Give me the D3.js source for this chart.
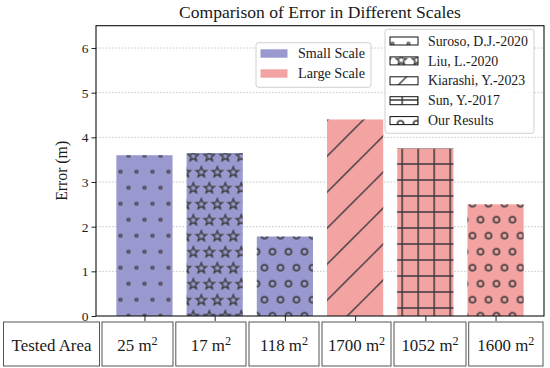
<!DOCTYPE html>
<html><head><meta charset="utf-8">
<script src="https://cdn.jsdelivr.net/npm/d3@7"></script>
<style>body{margin:0;background:#fff}svg{display:block}text{font-family:"Liberation Serif","Times New Roman",serif;fill:#1a1a1a}</style>
</head><body><svg id="c" width="550" height="368"></svg>
<script>
// ---- data ----
const areas = ["25", "17", "118", "1700", "1052", "1600"];
const errors = [3.6, 3.65, 1.78, 4.4, 3.75, 2.5];
const scaleGroup = ["Small Scale", "Small Scale", "Small Scale", "Large Scale", "Large Scale", "Large Scale"];
const sources = ["Suroso, D.J.-2020", "Liu, L.-2020", "Our Results", "Kiarashi, Y.-2023", "Sun, Y.-2017", "Our Results"];
const scaleLegend = ["Small Scale", "Large Scale"];
const sourceLegend = ["Suroso, D.J.-2020", "Liu, L.-2020", "Kiarashi, Y.-2023", "Sun, Y.-2017", "Our Results"];
const yTicks = [0, 1, 2, 3, 4, 5, 6];
const title = "Comparison of Error in Different Scales";
const yLabel = "Error (m)";
const rowHeader = "Tested Area";

// ---- styles / layout ----
const colors = {"Small Scale": "#9999d0", "Large Scale": "#f4a3a3"};
const hatchOf = {"Suroso, D.J.-2020": "dots", "Liu, L.-2020": "stars", "Kiarashi, Y.-2023": "diag", "Sun, Y.-2017": "grid", "Our Results": "rings"};
const HC = "#3a3a3a";
const L = {left: 96, right: 544, top: 25.7, bottom: 316};
const cellEdges = [[3.5, 99.5], [102, 173], [175.8, 246], [249, 319], [322, 391], [394, 466], [468.7, 543]];

const svg = d3.select("#c");
const defs = svg.append("defs");

// hatch patterns (screen-anchored like matplotlib)
function pat(id, w, h, ox, oy) {
  return defs.append("pattern").attr("id", id).attr("patternUnits", "userSpaceOnUse")
    .attr("width", w).attr("height", h).attr("x", ox).attr("y", oy);
}
function lattice(p, fn) {
  [[0, 0], [16, 0], [8, 16], [0, 32], [16, 32]].forEach(([x, y]) => fn(p, x, y));
}
let p = pat("dots", 16, 32, 8.5, 11.7);
lattice(p, (g, x, y) => g.append("circle").attr("cx", x).attr("cy", y).attr("r", 1.4)
  .attr("fill", "none").attr("stroke", HC).attr("stroke-width", 1.3));
p = pat("rings", 16, 32, 8.5, 11.7);
lattice(p, (g, x, y) => g.append("circle").attr("cx", x).attr("cy", y).attr("r", 3.0)
  .attr("fill", "none").attr("stroke", HC).attr("stroke-width", 1.6));
function starPath(cx, cy, R, r) {
  const pts = [];
  for (let i = 0; i < 10; i++) {
    const a = -Math.PI / 2 + i * Math.PI / 5, rr = i % 2 ? r : R;
    pts.push([cx + rr * Math.cos(a), cy + rr * Math.sin(a)]);
  }
  return "M" + pts.map(d => d.join(",")).join("L") + "Z";
}
p = pat("stars", 16, 32, 1.3, 27.7 - 32);
lattice(p, (g, x, y) => g.append("path").attr("d", starPath(x, y + 0.5, 5.4, 2.3))
  .attr("fill", "none").attr("stroke", HC).attr("stroke-width", 1.4).attr("stroke-linejoin", "miter"));
p = pat("grid", 16, 16, 2.2, 4);
p.append("path").attr("d", "M0,0H16M0,16H16M0,0V16M16,0V16").attr("stroke", HC).attr("stroke-width", 1.5);
const DP = 36;
p = pat("diag", DP, DP, 15.3, 0);
p.append("path").attr("d", `M-2,2L2,-2M0,${DP}L${DP},0M${DP - 2},${DP + 2}L${DP + 2},${DP - 2}`)
  .attr("stroke", HC).attr("stroke-width", 1.4);

// scales
const x = d3.scaleLinear().domain([-0.69, 5.69]).range([L.left, L.right]);
const y = d3.scaleLinear().domain([0, 6.5]).range([L.bottom, L.top]);
const bw = x(0.4) - x(0);

// grid
svg.append("g").selectAll("line").data(yTicks.filter(t => t > 0)).join("line")
  .attr("x1", L.left).attr("x2", L.right).attr("y1", d => y(d)).attr("y2", d => y(d))
  .attr("stroke", "#c4c4c4").attr("stroke-width", 0.9).attr("stroke-dasharray", "1.6,1.6");

// bars
const bars = svg.append("g");
errors.forEach((v, i) => {
  const bx = x(i) - bw, by = y(v), bh = y(0) - y(v);
  bars.append("rect").attr("x", bx).attr("y", by).attr("width", 2 * bw).attr("height", bh)
    .attr("fill", colors[scaleGroup[i]]);
  bars.append("rect").attr("x", bx).attr("y", by).attr("width", 2 * bw).attr("height", bh)
    .attr("fill", `url(#${hatchOf[sources[i]]})`);
});

// axes
const yAxis = svg.append("g").attr("transform", `translate(${L.left},0)`)
  .call(d3.axisLeft(y).tickValues(yTicks).tickFormat(d3.format("d")).tickSize(4.5).tickPadding(3));
const xAxis = svg.append("g").attr("transform", `translate(0,${L.bottom})`)
  .call(d3.axisBottom(x).tickValues(d3.range(areas.length)).tickFormat("").tickSize(5));
[yAxis, xAxis].forEach(a => {
  a.select(".domain").remove();
  a.selectAll("line").attr("stroke", "#222").attr("stroke-width", 1);
});
yAxis.selectAll("text").attr("font-size", 13.5).attr("fill", "#111").style("font-family", '"Liberation Serif",serif');
svg.append("rect").attr("x", L.left).attr("y", L.top).attr("width", L.right - L.left).attr("height", L.bottom - L.top)
  .attr("fill", "none").attr("stroke", "#111").attr("stroke-width", 1.1);

function fit(sel, target, base) {
  sel.attr("font-size", base);
  const w = sel.node().getComputedTextLength();
  sel.attr("font-size", base * target / w);
}

// title & y label
fit(svg.append("text").attr("x", (L.left + L.right) / 2).attr("y", 17.6).attr("text-anchor", "middle").text(title), 282, 16);
fit(svg.append("text").attr("transform", `translate(67,${(L.top + L.bottom) / 2}) rotate(-90)`)
  .attr("text-anchor", "middle").text(yLabel), 60, 13);

// legend 1: scales
const lg1 = svg.append("g");
lg1.append("rect").attr("x", 256).attr("y", 42.7).attr("width", 115).attr("height", 44.6).attr("rx", 2.5)
  .attr("fill", "#fff").attr("fill-opacity", 0.85).attr("stroke", "#d0d0d0");
scaleLegend.forEach((s, i) => {
  const cy = 53.5 + i * 20;
  lg1.append("rect").attr("x", 260.5).attr("y", cy - 4.2).attr("width", 27).attr("height", 8.4).attr("fill", colors[s]);
  const t = lg1.append("text").attr("x", 298).attr("y", cy + 4.6).text(s);
  fit(t, 67, 13.5);
});

// legend 2: sources
const lg2 = svg.append("g");
lg2.append("rect").attr("x", 385).attr("y", 29.3).attr("width", 149).attr("height", 104).attr("rx", 2.5)
  .attr("fill", "#fff").attr("fill-opacity", 0.85).attr("stroke", "#d0d0d0");
let fs2 = null;
sourceLegend.forEach((s, i) => {
  const cy = 41 + i * 19.9;
  lg2.append("rect").attr("x", 390).attr("y", cy - 4).attr("width", 28).attr("height", 8).attr("fill", "#fff");
  lg2.append("rect").attr("x", 390).attr("y", cy - 4).attr("width", 28).attr("height", 8)
    .attr("fill", `url(#${hatchOf[s]})`).attr("stroke", "#111").attr("stroke-width", 1);
  const t = lg2.append("text").attr("x", 428).attr("y", cy + 4.6).text(s);
  if (i === 0) { fit(t, 100, 13.5); fs2 = +t.attr("font-size"); } else t.attr("font-size", fs2);
});

// table
const tb = svg.append("g");
const cells = [rowHeader].concat(areas);
let fsT = null;
cells.forEach((c, i) => {
  const [a, b] = cellEdges[i];
  tb.append("rect").attr("x", a).attr("y", 322).attr("width", b - a).attr("height", 44)
    .attr("fill", "#fff").attr("stroke", "#555").attr("stroke-width", 1);
  const t = tb.append("text").attr("x", (a + b) / 2).attr("y", 351).attr("text-anchor", "middle");
  if (i === 0) {
    t.text(c); fit(t, 80, 14); fsT = +t.attr("font-size");
  } else {
    t.attr("font-size", fsT);
    t.append("tspan").text(c + " m");
    t.append("tspan").attr("dy", -6).attr("font-size", fsT * 0.72).text("2");
  }
});
</script></body></html>
